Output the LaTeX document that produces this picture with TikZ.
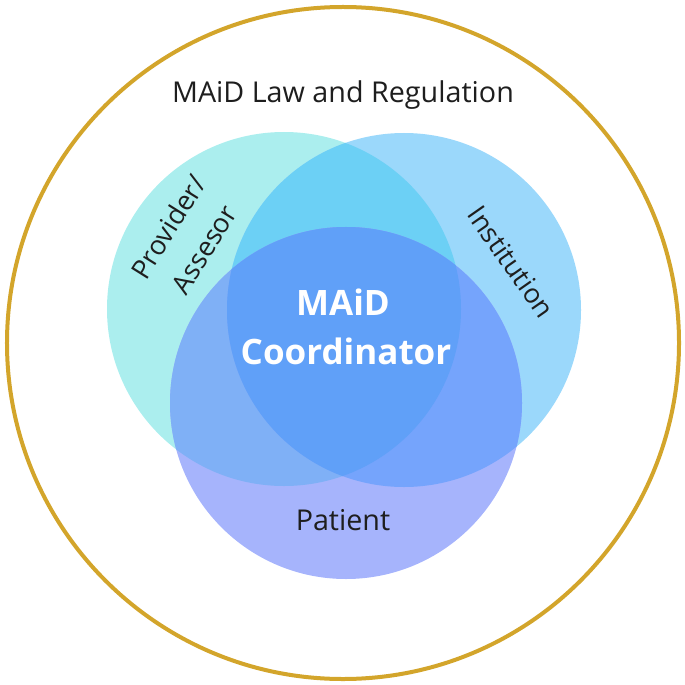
\documentclass[tikz,border=0pt]{standalone}
\usepackage{fontspec}
\setmainfont{Open Sans}
\definecolor{cL}{HTML}{ABEEEE}
\definecolor{cR}{HTML}{9BD8FB}
\definecolor{cB}{HTML}{A6B4FC}
\definecolor{cLR}{HTML}{6CD0F5}
\definecolor{cLB}{HTML}{7FB0F6}
\definecolor{cRB}{HTML}{75A4FC}
\definecolor{cLRB}{HTML}{60A0F8}
\definecolor{gold}{HTML}{D3A52B}
\definecolor{ink}{HTML}{1E1E1E}
\tikzset{
  lbl/.style={inner sep=0pt, text=ink, font=\fontsize{28.7bp}{30bp}\selectfont},
  sidelbl/.style={inner sep=0pt, text=ink, align=center, font=\fontsize{27bp}{42bp}\selectfont},
  mainlbl/.style={inner sep=0pt, text=white, font=\bfseries\fontsize{35bp}{49bp}\selectfont},
}
\begin{document}
\begin{tikzpicture}[x=1bp,y=-1bp]
\useasboundingbox (0,0) rectangle (685,685);
\def\Lc{(284,309) circle [radius=177bp]}
\def\Rc{(404,310) circle [radius=177bp]}
\def\Bc{(346,403) circle [radius=176bp]}
% ring
\draw[gold, line width=4bp] (343,343) circle [radius=336bp];
% single circles
\fill[cL] \Lc;
\fill[cR] \Rc;
\begin{scope}\clip \Lc; \fill[cLR] \Rc; \end{scope}
\fill[cB] \Bc;
\begin{scope}\clip \Bc; \fill[cLB] \Lc; \end{scope}
\begin{scope}\clip \Bc; \fill[cRB] \Rc; \end{scope}
\begin{scope}\clip \Bc; \clip \Lc; \fill[cLRB] \Rc; \end{scope}
% labels
\node[lbl, anchor=base] (law) at (343,103) {MAiD Law and Regulation};
\node[mainlbl, anchor=base] (maid) at (343,315) {MAiD};
\node[mainlbl, anchor=base] (coord) at (346,364) {Coordinator};
\node[lbl, anchor=base] (patient) at (343,530) {Patient};
\node[sidelbl, rotate=58] (prov) at (186,238) {Provider/\\Assesor};
\node[sidelbl, rotate=-55] (inst) at (511,262) {Institution};
\end{tikzpicture}
\end{document}
